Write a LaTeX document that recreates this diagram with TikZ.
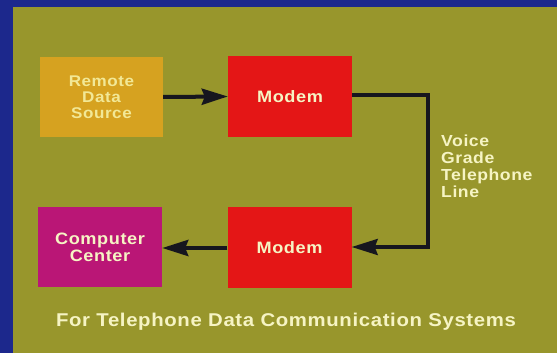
\documentclass[tikz,border=0pt]{standalone}
\usepackage{fontspec}
\setmainfont{Liberation Sans}[FakeStretch=1.1, LetterSpace=3.5]
\usetikzlibrary{arrows.meta}
\definecolor{frameblue}{RGB}{28,40,140}
\definecolor{olive}{RGB}{152,150,44}
\definecolor{srcorange}{RGB}{214,162,32}
\definecolor{modemred}{RGB}{228,22,22}
\definecolor{centermag}{RGB}{186,22,118}
\definecolor{cream}{RGB}{246,244,196}
\definecolor{paleyel}{RGB}{242,232,150}
\definecolor{wire}{RGB}{22,22,30}
\tikzset{
  x=1pt, y=-1pt,
  block/.style={draw=none, minimum width=124pt, minimum height=81pt, inner sep=0pt,
    font=\bfseries\fontsize{16.5}{17}\selectfont, text=cream, align=center},
  link/.style={draw=wire, line width=4pt, -{Stealth[length=26pt,width=16pt,inset=3pt]}},
  label/.style={text=cream, font=\bfseries\fontsize{16}{17}\selectfont, align=left, inner sep=0pt}
}
\begin{document}
\begin{tikzpicture}
% frame and panel
\fill[frameblue] (0,0) rectangle (557,353);
\fill[olive] (13,7) rectangle (557,353);
\useasboundingbox (0,0) rectangle (557,353);

% blocks
\node[block, fill=srcorange, text=paleyel, minimum width=123pt, minimum height=80pt,
  font=\bfseries\fontsize{15.5}{16}\selectfont] (src) at (101.5,97) {Remote\\Data\\Source};
\node[block, fill=modemred] (mtop) at (290,96.5) {Modem};
\node[block, fill=centermag, minimum height=80pt,
  font=\bfseries\fontsize{16.5}{17}\selectfont] (cc) at (100,247) {Computer\\Center};
\node[block, fill=modemred] (mbot) at (289.5,247.5) {Modem};

% connectors
\draw[link] (src.east) -- (mtop.west);
\coordinate (c1) at (428,95);
\coordinate (c2) at (428,247);
\draw[link, line width=3.5pt] (mtop.east |- c1) -- (c1) -- (c2) -- (mbot.east |- c2);
\draw[link] (mbot.west |- 0,248) -- (cc.east |- 0,248);

% labels
\node[label, anchor=north west] (line) at (441,135) {Voice\\Grade\\Telephone\\Line};
\node[text=cream, font=\bfseries\fontsize{18.5}{20}\selectfont, inner sep=0pt] (caption) at (286,322)
  {For Telephone Data Communication Systems};
\end{tikzpicture}
\end{document}
